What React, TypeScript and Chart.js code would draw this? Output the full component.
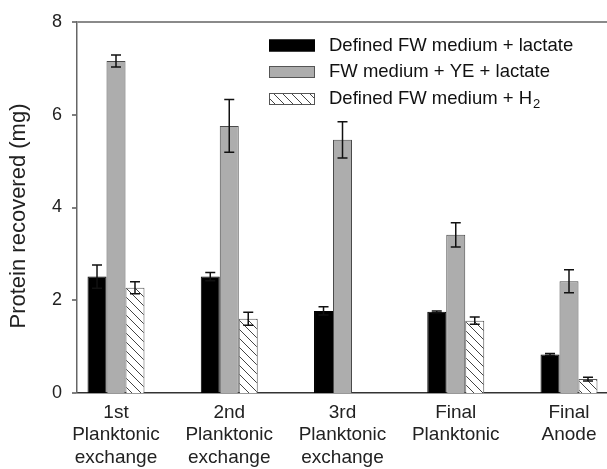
import React, { useEffect, useRef } from "react";
import { Chart, registerables } from "chart.js";

Chart.register(...registerables);

const categories: string[][] = [
  ["1st", "Planktonic", "exchange"],
  ["2nd", "Planktonic", "exchange"],
  ["3rd", "Planktonic", "exchange"],
  ["Final", "Planktonic"],
  ["Final", "Anode"],
];
const definedLactate = [2.51, 2.51, 1.77, 1.75, 0.83];
const definedLactateErr = [0.25, 0.09, 0.09, 0.02, 0.02];
const yeLactate = [7.16, 5.76, 5.46, 3.41, 2.41];
const yeLactateErr = [0.13, 0.57, 0.39, 0.26, 0.25];
const definedH2: (number | null)[] = [2.27, 1.6, null, 1.56, 0.3];
const definedH2Err: (number | null)[] = [0.13, 0.14, null, 0.08, 0.04];
const seriesNames = ["Defined FW medium + lactate", "FW medium + YE + lactate", "Defined FW medium + H"];
const yTicks = [0, 2, 4, 6, 8];
const yTitle = "Protein recovered (mg)";

const FONT = "'Liberation Sans', Arial, sans-serif";

function makeHatch(): CanvasPattern | string {
  const size = 9;
  const c = document.createElement("canvas");
  c.width = size;
  c.height = size;
  const g = c.getContext("2d");
  if (!g) return "#fff";
  g.fillStyle = "#ffffff";
  g.fillRect(0, 0, size, size);
  g.strokeStyle = "#444";
  g.lineWidth = 1;
  g.beginPath();
  g.moveTo(-1, -1);
  g.lineTo(size + 1, size + 1);
  g.moveTo(-1, size - 1);
  g.lineTo(1, size + 1);
  g.moveTo(size - 1, -1);
  g.lineTo(size + 1, 1);
  g.stroke();
  const p = g.createPattern(c, "repeat");
  return p || "#fff";
}

export default function App() {
  const ref = useRef<HTMLCanvasElement>(null);
  useEffect(() => {
    if (!ref.current) return;
    const hatch = makeHatch();
    const errs = [definedLactateErr, yeLactateErr, definedH2Err];
    const toPts = (arr: (number | null)[]) => arr.map((v, i) => ({ x: i + 1, y: v }));
    const yMax = yTicks[yTicks.length - 1];

    const errorPlugin = {
      id: "errbars",
      afterDatasetsDraw(chart: any) {
        const ctx = chart.ctx;
        const ys = chart.scales.y;
        ctx.save();
        ctx.strokeStyle = "#111";
        ctx.lineWidth = 1.5;
        chart.data.datasets.forEach((ds: any, di: number) => {
          const meta = chart.getDatasetMeta(di);
          meta.data.forEach((el: any, i: number) => {
            const v = ds.data[i].y;
            const e = errs[di][i];
            if (v == null || e == null) return;
            const top = ys.getPixelForValue(v + e);
            const bot = ys.getPixelForValue(v - e);
            const x = el.x;
            ctx.beginPath();
            ctx.moveTo(x, top);
            ctx.lineTo(x, bot);
            ctx.moveTo(x - 5, top);
            ctx.lineTo(x + 5, top);
            ctx.moveTo(x - 5, bot);
            ctx.lineTo(x + 5, bot);
            ctx.stroke();
          });
        });
        ctx.restore();
      },
    };

    const decorPlugin = {
      id: "decor",
      afterDraw(chart: any) {
        const ctx = chart.ctx;
        ctx.save();
        // y title
        ctx.save();
        ctx.translate(19, 216);
        ctx.rotate(-Math.PI / 2);
        ctx.fillStyle = "#222";
        ctx.font = `22px ${FONT}`;
        ctx.textAlign = "center";
        ctx.textBaseline = "middle";
        ctx.fillText(yTitle, 0, 0);
        ctx.restore();

        // legend
        const fills = ["#000000", "#adadad", hatch];
        const strokes = ["#000", "#555", "#555"];
        const rows = [45.5, 72, 99];
        ctx.font = `18.5px ${FONT}`;
        ctx.textBaseline = "middle";
        ctx.textAlign = "left";
        seriesNames.forEach((name, i) => {
          const cy = rows[i];
          ctx.fillStyle = fills[i] as any;
          ctx.fillRect(269, cy - 6, 46, 12);
          ctx.strokeStyle = strokes[i];
          ctx.lineWidth = 1;
          ctx.strokeRect(269.5, cy - 5.5, 45, 11);
          ctx.fillStyle = "#111";
          ctx.fillText(name, 329, cy);
          if (i === 2) {
            const w = ctx.measureText(name).width;
            ctx.font = `13px ${FONT}`;
            ctx.fillText("2", 329 + w + 1, cy + 5);
            ctx.font = `18.5px ${FONT}`;
          }
        });
        ctx.restore();
      },
    };

    const chart = new Chart(ref.current, {
      type: "bar",
      data: {
        datasets: [
          {
            label: seriesNames[0],
            data: toPts(definedLactate) as any,
            backgroundColor: "#000000",
            borderColor: "#000000",
            borderWidth: 1,
          },
          {
            label: seriesNames[1],
            data: toPts(yeLactate) as any,
            backgroundColor: "#adadad",
            borderColor: "#4a4a4a",
            borderWidth: 1,
          },
          {
            label: seriesNames[2] + "2",
            data: toPts(definedH2) as any,
            backgroundColor: hatch as any,
            borderColor: "#555",
            borderWidth: 1,
          },
        ],
      },
      options: {
        animation: false,
        responsive: false,
        layout: { padding: { left: 0, top: 22, right: 0, bottom: 0 } },
        datasets: { bar: { categoryPercentage: 0.503, barPercentage: 1.0 } },
        plugins: { legend: { display: false }, tooltip: { enabled: false } },
        scales: {
          x: {
            type: "linear",
            offset: false,
            min: 0.6556,
            max: 5.3355,
            afterBuildTicks: (axis: any) => {
              axis.ticks = categories.map((_, i) => ({ value: i + 1 }));
            },
            afterFit: (s: any) => {
              s.height = 76;
            },
            ticks: {
              autoSkip: false,
              maxRotation: 0,
              padding: 8,
              color: "#222",
              font: { family: FONT, size: 19 },
              callback: (v: any) => categories[Math.round(Number(v)) - 1] || "",
            },
            grid: { display: true, drawOnChartArea: false, drawTicks: false },
            border: { display: true, color: "#333", width: 1.5 },
          },
          y: {
            min: 0,
            max: yMax,
            afterBuildTicks: (axis: any) => {
              axis.ticks = yTicks.map((v) => ({ value: v }));
            },
            afterFit: (s: any) => {
              s.width = 77;
            },
            ticks: {
              padding: 10,
              color: "#222",
              font: { family: FONT, size: 18 },
            },
            grid: {
              display: true,
              drawOnChartArea: true,
              drawTicks: true,
              tickLength: 5,
              color: (c: any) => (c.tick && c.tick.value === yMax ? "#8a8a8a" : "rgba(0,0,0,0)"),
              lineWidth: (c: any) => (c.tick && c.tick.value === yMax ? 2 : 0),
              tickColor: "#555",
              tickWidth: 1.5,
            },
            border: { display: true, color: "#666", width: 1.5 },
          },
        },
      },
      plugins: [errorPlugin, decorPlugin],
    });
    return () => chart.destroy();
  }, []);
  return (
    <div style={{ position: "fixed", left: 0, top: 0, width: 607, height: 469, background: "#fff" }}>
      <canvas ref={ref} width={607} height={469} style={{ display: "block" }} />
    </div>
  );
}
